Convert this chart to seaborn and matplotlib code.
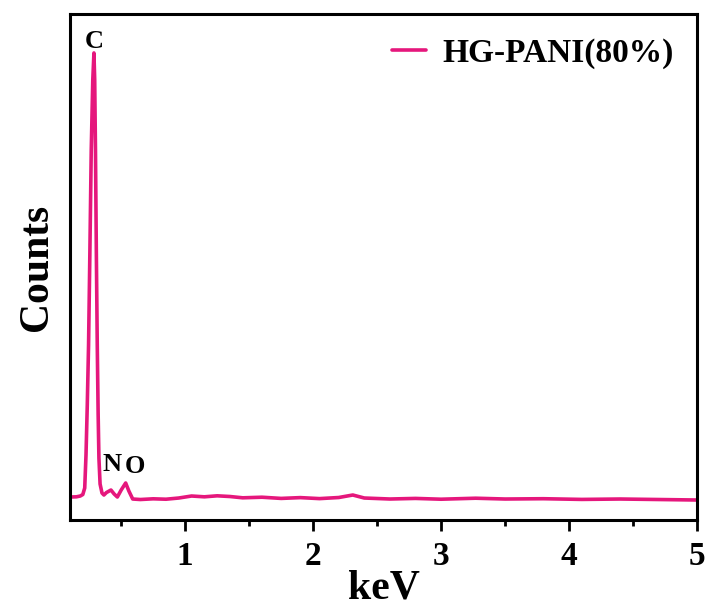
import matplotlib
matplotlib.use("Agg")
import matplotlib.pyplot as plt
import seaborn as sns
import pandas as pd
from matplotlib.ticker import MultipleLocator

# Data (keV vs counts, arbitrary units)
energy_kev = [0.10, 0.15, 0.18, 0.20, 0.215, 0.225, 0.235, 0.245, 0.255, 0.266,
              0.278, 0.287, 0.293, 0.299, 0.306, 0.313, 0.320, 0.326, 0.335, 0.350,
              0.365, 0.385, 0.42, 0.445, 0.47, 0.50, 0.535, 0.56, 0.59, 0.65,
              0.75, 0.85, 0.95, 1.05, 1.15, 1.25, 1.35, 1.45, 1.6, 1.75,
              1.9, 2.05, 2.2, 2.31, 2.4, 2.6, 2.8, 3.0, 3.27, 3.5,
              3.8, 4.1, 4.4, 4.7, 5.0]
counts = [230, 232, 240, 255, 320, 650, 1150, 1750, 2650, 3700,
          4400, 4670, 4400, 3700, 2650, 1750, 1050, 620, 360, 270,
          250, 275, 300, 260, 230, 300, 370, 290, 210, 205,
          212, 208, 220, 240, 232, 242, 235, 222, 228, 216,
          224, 214, 225, 250, 220, 210, 216, 208, 218, 210,
          213, 206, 210, 205, 200]
series_name = "HG-PANI(80%)"
peak_labels = ["C", "N", "O"]
peak_label_x = [0.287, 0.427, 0.606]
peak_label_y = [4780, 560, 540]
x_ticks = [1, 2, 3, 4, 5]

df = pd.DataFrame({"keV": energy_kev, "Counts": counts, "sample": series_name})

sns.set_style("ticks")
plt.rcParams["font.family"] = ["Liberation Serif", "DejaVu Serif"]
plt.rcParams["font.weight"] = "bold"
plt.rcParams["text.color"] = "black"
plt.rcParams["axes.labelcolor"] = "black"
plt.rcParams["xtick.color"] = "black"
plt.rcParams["ytick.color"] = "black"

fig = plt.figure(figsize=(7.10, 6.07), dpi=100)
ax = fig.add_axes([0.0986, 0.1433, 0.8831, 0.8337])

sns.lineplot(data=df, x="keV", y="Counts", hue="sample", palette=["#e5177c"],
             linewidth=2.6, ax=ax, sort=False)

ax.set_xlim(0.1, 5.0)
ax.set_ylim(0, 5060)
ax.set_xticks(x_ticks)
ax.set_xticklabels([str(t) for t in x_ticks], fontsize=24, fontweight="bold")
ax.xaxis.set_minor_locator(MultipleLocator(0.5))
ax.set_yticks([])
ax.tick_params(axis="x", which="major", direction="out", length=8, width=2, pad=7)
ax.tick_params(axis="x", which="minor", direction="out", length=4, width=2)
for s in ax.spines.values():
    s.set_linewidth(2.2)
    s.set_color("black")

ax.set_xlabel("keV", fontsize=30, fontweight="bold", labelpad=-2)
ax.set_ylabel("Counts", fontsize=30, fontweight="bold", labelpad=10)

for lab, lx, ly in zip(peak_labels, peak_label_x, peak_label_y):
    ax.text(lx, ly, lab, fontsize=19, fontweight="bold", ha="center", va="center",
            color="black")

leg = ax.legend(loc="upper right", frameon=False, fontsize=24, handlelength=1.0,
                handletextpad=0.5, borderaxespad=0.3)
for t in leg.get_texts():
    t.set_fontweight("bold")
    t.set_color("black")

fig.savefig("out.png", dpi=100)
